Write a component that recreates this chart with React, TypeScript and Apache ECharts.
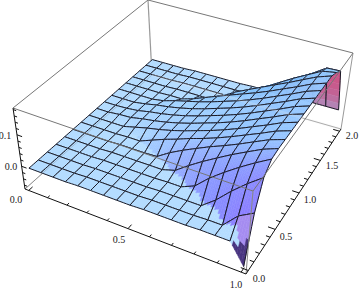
import React, { useEffect, useRef } from "react";
import * as echarts from "echarts";

// Grid of the surface
const xGrid = [0, 0.0625, 0.125, 0.1875, 0.25, 0.3125, 0.375, 0.4375, 0.5, 0.5625, 0.625, 0.6875, 0.75, 0.8125, 0.875, 0.9375, 1];
const yGrid = [0, 0.125, 0.25, 0.375, 0.5, 0.625, 0.75, 0.875, 1, 1.125, 1.25, 1.375, 1.5, 1.625, 1.75, 1.875, 2];
// surface heights, in thousandths; row = y index, column = x index
const zMilli = [
  [45, 45, 45, 45, 46, 46, 46, 46, 46, 47, 47, 47, 47, 48, 48, 48, 17],
  [45, 45, 45, 45, 46, 46, 46, 46, 46, 47, 47, 47, 47, 48, 48, 71, 84],
  [45, 45, 45, 45, 46, 46, 46, 46, 46, 47, 47, 47, 47, 64, 86, 106, 124],
  [45, 45, 45, 45, 46, 46, 46, 46, 46, 47, 47, 56, 76, 93, 109, 124, 138],
  [45, 45, 45, 45, 46, 46, 46, 46, 46, 52, 67, 81, 94, 107, 119, 131, 140],
  [45, 45, 45, 45, 46, 46, 46, 47, 60, 71, 81, 91, 100, 110, 121, 132, 140],
  [45, 45, 45, 45, 46, 46, 54, 62, 69, 77, 84, 92, 101, 111, 121, 132, 140],
  [45, 45, 45, 45, 50, 55, 59, 64, 70, 77, 84, 92, 101, 111, 121, 132, 140],
  [45, 45, 47, 48, 52, 55, 59, 64, 70, 77, 84, 92, 101, 111, 121, 132, 140],
  [45, 45, 46, 48, 52, 55, 59, 64, 70, 77, 84, 92, 101, 111, 121, 132, 140],
  [45, 45, 45, 48, 52, 55, 59, 64, 70, 77, 84, 92, 101, 111, 121, 132, 140],
  [45, 45, 45, 45, 48, 54, 59, 64, 70, 77, 84, 92, 101, 111, 121, 132, 140],
  [45, 45, 45, 45, 46, 46, 52, 60, 68, 76, 84, 92, 101, 111, 121, 132, 140],
  [45, 45, 45, 45, 46, 46, 46, 46, 58, 70, 80, 90, 100, 110, 121, 132, 140],
  [45, 45, 45, 45, 46, 46, 46, 46, 46, 52, 67, 80, 93, 106, 118, 130, 134],
  [45, 45, 45, 45, 46, 46, 46, 46, 46, 47, 47, 60, 77, 94, 109, 124, 125],
  [45, 45, 45, 45, 46, 46, 46, 46, 46, 47, 47, 47, 47, 48, 48, 48, 48],
];
const flatMilli = [45, 45, 45, 45, 46, 46, 46, 46, 46, 47, 47, 47, 47, 48, 48, 48, 48];

const xTicks = [0, 0.1, 0.2, 0.3, 0.4, 0.5, 0.6, 0.7, 0.8, 0.9, 1];
const yTicks = [0, 0.1, 0.2, 0.3, 0.4, 0.5, 0.6, 0.7, 0.8, 0.9, 1, 1.1, 1.2, 1.3, 1.4, 1.5, 1.6, 1.7, 1.8, 1.9, 2];
const zTicks = [0.02, 0.03, 0.04, 0.05, 0.06, 0.07, 0.08, 0.09, 0.1, 0.11, 0.12, 0.13, 0.14];
const xMajor = [0, 0.5, 1];
const yMajor = [0, 0.5, 1, 1.5, 2];
const zMajor = [0.05, 0.1];
const tickLabels: [string, number, number][] = [
  ["0.0", 16, 199], ["0.5", 119, 239], ["1.0", 236, 284],
  ["0.0", 259, 278], ["0.5", 286, 236], ["1.0", 310, 199], ["1.5", 332, 165], ["2.0", 352, 135],
  ["0.0", 11, 166], ["0.1", 5, 135],
];

const Z_MIN = 0.0165, Z_MAX = 0.14;

// box corners on the page: [u, v] at bottom and top of the box
const bottomQuad = [[25, 189], [246, 274], [341, 129], [152, 75]];
const topQuad = [[13, 108], [253, 191], [353, 53], [148, 0]];

function quadMap(q: number[][]) {
  const [[x0, y0], [x1, y1], [x2, y2], [x3, y3]] = q;
  const dx1 = x1 - x2, dx2 = x3 - x2, sx = x0 - x1 + x2 - x3;
  const dy1 = y1 - y2, dy2 = y3 - y2, sy = y0 - y1 + y2 - y3;
  const den = dx1 * dy2 - dx2 * dy1;
  const g = (sx * dy2 - dx2 * sy) / den, h = (dx1 * sy - sx * dy1) / den;
  const a = x1 - x0 + g * x1, b = x3 - x0 + h * x3, c = x0;
  const d = y1 - y0 + g * y1, e = y3 - y0 + h * y3, f = y0;
  return (u: number, v: number) => {
    const k = g * u + h * v + 1;
    return [(a * u + b * v + c) / k, (d * u + e * v + f) / k];
  };
}
const groundMap = quadMap(bottomQuad);
const topMap = quadMap(topQuad);
const toU = (x: number) => (x + 0.02) / 1.04;
const toV = (y: number) => (y / 2 + 0.02) / 1.04;
const toW = (z: number) => 0.02 + (0.96 * (z - Z_MIN)) / (Z_MAX - Z_MIN);
function boxPt(u: number, v: number, w: number) {
  const a = groundMap(u, v), b = topMap(u, v);
  return [a[0] + (b[0] - a[0]) * w, a[1] + (b[1] - a[1]) * w];
}
const dataPt = (x: number, y: number, z: number) => boxPt(toU(x), toV(y), toW(z));

// lighting
const RIGHT = [0.879, 0.476, 0];
const UPV = [-0.28, 0.518, 0.808];
const VIEW = [0.383, -0.708, 0.59];
const LIGHTS = [[0.707, 0, 0.707], [0.577, 0.577, 0.577], [0, 0.707, 0.707]];
const AMBIENT = [0.372, 0.218, 0.45];
const DAMP_U = 0.35, DAMP_V = 0.65;
function shade(dhdu: number, dhdv: number): number[] {
  const du = dhdu * DAMP_U, dv = dhdv * DAMP_V;
  const l = Math.hypot(du, dv, 1);
  const n = [-du / l, -dv / l, 1 / l];
  const dot = (a: number[], b: number[]) => a[0] * b[0] + a[1] * b[1] + a[2] * b[2];
  const nv = [dot(n, RIGHT), dot(n, UPV), dot(n, VIEW)];
  return LIGHTS.map((L, c) => Math.min(255, 255 * (AMBIENT[c] + 0.8 * Math.max(0, dot(nv, L)))));
}
const isRaised = (i: number, j: number) => zMilli[j][i] - flatMilli[i] > 1;
const N = xGrid.length, M = yGrid.length;
function vertexColor(i: number, j: number): number[] {
  const me = isRaised(i, j);
  const ok = (a: number, b: number) => a >= 0 && a < N && b >= 0 && b < M - 1 && isRaised(a, b) === me;
  const slope = (a1: number, b1: number, a2: number, b2: number, step: number) => {
    const g1 = ok(a1, b1) ? [a1, b1] : [i, j];
    const g2 = ok(a2, b2) ? [a2, b2] : [i, j];
    const span = (g1[0] === g2[0] && g1[1] === g2[1]) ? 0 : ((g2[0] - g1[0]) + (g2[1] - g1[1]));
    if (!span) return 0;
    const dw = (0.96 * (zMilli[g2[1]][g2[0]] - zMilli[g1[1]][g1[0]]) / 1000) / (Z_MAX - Z_MIN);
    return (0.4 * dw) / (span * step);
  };
  const stepU = 1 / 16 / 1.04, stepV = 1 / 16 / 1.04;
  return shade(slope(i - 1, j, i + 1, j, stepU), slope(i, j - 1, i, j + 1, stepV));
}
const rawColors = yGrid.map((_, j) => xGrid.map((__, i) => vertexColor(i, j)));
// soften the colours over the raised part, and carry them to the next flat vertices
function neighbourMean(src: (number[] | null)[][], i: number, j: number, self: number) {
  const sum = [0, 0, 0];
  let w = 0;
  for (let b = -1; b <= 1; b++) for (let a = -1; a <= 1; a++) {
    const r = src[j + b]?.[i + a];
    if (!r) continue;
    const k = a === 0 && b === 0 ? self : 1;
    sum[0] += r[0] * k; sum[1] += r[1] * k; sum[2] += r[2] * k; w += k;
  }
  return w ? sum.map((v) => v / w) : null;
}
let raisedField: (number[] | null)[][] = rawColors.map((row, j) => row.map((c, i) => (isRaised(i, j) && j < M - 1 ? c : null)));
for (let pass = 0; pass < 2; pass++) {
  const prev = raisedField;
  raisedField = prev.map((row, j) => row.map((c, i) => (c ? neighbourMean(prev, i, j, 2) : null)));
}
for (let pass = 0; pass < 3; pass++) {
  const prev = raisedField;
  raisedField = prev.map((row, j) => row.map((c, i) => c || neighbourMean(prev, i, j, 0)));
}
const softColors = rawColors.map((row, j) => row.map((c, i) => (isRaised(i, j) && raisedField[j][i]) || c));
const creaseRaised = (x: number, y: number) => y > 1.1 * (1 - x);
const SHARP_CREASE_TO_Y = 0.8;

const cells: number[][] = [];
for (let j = M - 2; j >= 0; j--) for (let i = 0; i < N - 1; i++) cells.push([i, j]);

const SUB = 6;
const rgb = (c: number[]) => `rgb(${Math.round(c[0])},${Math.round(c[1])},${Math.round(c[2])})`;
const MESH = "#1a1a26";

function cellPoint(i: number, j: number, s: number, t: number) {
  const z00 = zMilli[j][i], z10 = zMilli[j][i + 1], z01 = zMilli[j + 1][i], z11 = zMilli[j + 1][i + 1];
  const z = (z00 * (1 - s) * (1 - t) + z10 * s * (1 - t) + z01 * (1 - s) * t + z11 * s * t) / 1000;
  const x = xGrid[i] + (xGrid[i + 1] - xGrid[i]) * s;
  const y = yGrid[j] + (yGrid[j + 1] - yGrid[j]) * t;
  return dataPt(x, y, z);
}

function subColor(i: number, j: number, s: number, t: number) {
  const x = xGrid[i] + (xGrid[i + 1] - xGrid[i]) * s;
  const y = yGrid[j] + (yGrid[j + 1] - yGrid[j]) * t;
  const sharp = y < SHARP_CREASE_TO_Y;
  if (sharp && !creaseRaised(x, y)) return shade(0, 0);
  const corners: [number, number, number][] = [
    [i, j, (1 - s) * (1 - t)], [i + 1, j, s * (1 - t)], [i, j + 1, (1 - s) * t], [i + 1, j + 1, s * t],
  ];
  const col = [0, 0, 0];
  corners.forEach((c) => {
    const vc = (sharp && raisedField[c[1]][c[0]]) || softColors[c[1]][c[0]];
    col[0] += vc[0] * c[2];
    col[1] += vc[1] * c[2];
    col[2] += vc[2] * c[2];
  });
  return col;
}

function renderCell(params: any, api: any) {
  const i = api.value(0), j = api.value(1);
  const C = (p: number[]) => api.coord(p);
  const children: any[] = [];
  const poly = (pts: number[][], fill: string) =>
    children.push({ type: "polygon", shape: { points: pts.map(C) }, style: { fill, stroke: fill, lineWidth: 0.5 }, silent: true });
  const isWall = j === M - 2 && (isRaised(i, j) || isRaised(i + 1, j));
  const spike = i === N - 2 && j === 0;
  const crossesCrease = yGrid[j] < SHARP_CREASE_TO_Y && creaseRaised(xGrid[i + 1], yGrid[j + 1]);
  const allFlat = !isRaised(i, j) && !isRaised(i + 1, j) && !isRaised(i, j + 1) && !isRaised(i + 1, j + 1) && !spike && !crossesCrease;
  if (isWall) {
    const n = SUB;
    for (let b = 0; b < n; b++) {
      const t0 = b / n, t1 = (b + 1) / n;
      const mix = t1;
      const fill = rgb([205 - 25 * mix * mix, 85 + 45 * mix * mix * mix, 135 + 45 * mix * mix * mix]);
      poly([cellPoint(i, j, 0, t0), cellPoint(i, j, 1, t0), cellPoint(i, j, 1, t1), cellPoint(i, j, 0, t1)], fill);
    }
  } else if (allFlat) {
    poly([cellPoint(i, j, 0, 0), cellPoint(i, j, 1, 0), cellPoint(i, j, 1, 1), cellPoint(i, j, 0, 1)], rgb(shade(0, 0)));
  } else {
    for (let a = 0; a < SUB; a++) for (let b = 0; b < SUB; b++) {
      const s0 = a / SUB, s1 = (a + 1) / SUB, t0 = b / SUB, t1 = (b + 1) / SUB;
      const sm = (s0 + s1) / 2, tm = (t0 + t1) / 2;
      let col = subColor(i, j, sm, tm);
      if (spike) col = tm < 0.5 * sm ? [72, 52, 128] : sm + tm < 0.8 ? [180, 220, 255] : [165, 140, 240];
      poly([cellPoint(i, j, s0, t0), cellPoint(i, j, s1, t0), cellPoint(i, j, s1, t1), cellPoint(i, j, s0, t1)], rgb(col));
    }
  }
  // mesh lines along the cell's edges
  const edge = (f: (k: number) => number[]) => {
    const pts = [0, 0.25, 0.5, 0.75, 1].map(f).map(C);
    children.push({ type: "polyline", shape: { points: pts }, style: { stroke: MESH, fill: null, lineWidth: 1 }, silent: true });
  };
  if (!spike) edge((k) => cellPoint(i, j, k, 0));
  edge((k) => cellPoint(i, j, k, 1));
  edge((k) => cellPoint(i, j, 0, k));
  edge((k) => cellPoint(i, j, 1, k));
  return { type: "group", children };
}

const line = (api: any, a: number[], b: number[], stroke: string, lineWidth: number, opacity = 1) => ({
  type: "line",
  shape: { x1: api.coord(a)[0], y1: api.coord(a)[1], x2: api.coord(b)[0], y2: api.coord(b)[1] },
  style: { stroke, lineWidth, opacity },
  silent: true,
});
const A = boxPt(0, 0, 0), B = boxPt(1, 0, 0), CC = boxPt(1, 1, 0), D = boxPt(0, 1, 0);
const E = boxPt(0, 0, 1), F = boxPt(1, 0, 1), G = boxPt(1, 1, 1), H = boxPt(0, 1, 1);

function renderBack(_: any, api: any) {
  return {
    type: "group",
    children: [
      line(api, A, D, "#999", 1), line(api, D, CC, "#999", 1), line(api, D, H, "#999", 1.2),
      line(api, H, G, "#777", 1), line(api, H, E, "#777", 1), line(api, CC, G, "#999", 1),
    ],
  };
}

function renderFront(_: any, api: any) {
  const ch: any[] = [
    line(api, A, D, "#666", 1, 0.25), line(api, D, CC, "#eee", 2.5, 0.22),
    line(api, E, F, "#777", 1), line(api, F, G, "#777", 1), line(api, F, B, "#888", 1),
    line(api, A, B, "#111", 1), line(api, B, CC, "#111", 1), line(api, A, E, "#111", 1),
  ];
  xTicks.forEach((x) => {
    const major = xMajor.includes(x);
    ch.push(line(api, boxPt(toU(x), 0, 0), boxPt(toU(x), major ? 0.025 : 0.014, 0), "#111", 1));
  });
  yTicks.forEach((y) => {
    const major = yMajor.includes(y);
    ch.push(line(api, boxPt(1, toV(y), 0), boxPt(major ? 0.97 : 0.983, toV(y), 0), "#111", 1));
  });
  zTicks.forEach((z) => {
    const major = zMajor.includes(z);
    ch.push(line(api, boxPt(0, 0, toW(z)), boxPt(major ? 0.025 : 0.014, 0, toW(z)), "#111", 1));
  });
  tickLabels.forEach(([text, x, y]) => {
    const p = api.coord([x, y]);
    ch.push({
      type: "text", silent: true,
      style: { text, x: p[0], y: p[1], fill: "#222", font: "10px 'Liberation Serif'", textAlign: "center", textVerticalAlign: "middle" },
    });
  });
  return { type: "group", children: ch };
}

export default function App() {
  const ref = useRef<HTMLDivElement>(null);
  useEffect(() => {
    document.body.style.margin = "0";
    const chart = echarts.init(ref.current!, undefined, { renderer: "svg" });
    const common = { type: "custom", clip: false, silent: true, encode: { x: 0, y: 1 } };
    chart.setOption({
      animation: false,
      backgroundColor: "#fff",
      grid: { left: 0, right: 0, top: 0, bottom: 0 },
      xAxis: { type: "value", min: 0, max: 360, show: false },
      yAxis: { type: "value", min: 0, max: 292, inverse: true, show: false },
      tooltip: { show: false },
      series: [
        { ...common, data: [[0, 0]], renderItem: renderBack },
        { ...common, data: cells, renderItem: renderCell },
        { ...common, data: [[0, 0]], renderItem: renderFront },
      ],
    });
    return () => chart.dispose();
  }, []);
  return <div ref={ref} style={{ width: 360, height: 292 }} />;
}
